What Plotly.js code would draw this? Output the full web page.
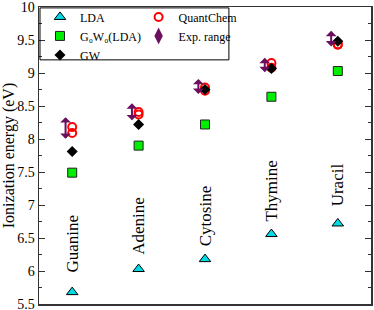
<!DOCTYPE html>
<html>
<head>
<meta charset="utf-8">
<script src="https://cdn.plot.ly/plotly-3.0.1.min.js"></script>
<style>html,body{margin:0;padding:0;background:#fff}#chart{width:374px;height:310px}</style>
</head>
<body>
<div id="chart"></div>
<script>
const categories = ['Guanine', 'Adenine', 'Cytosine', 'Thymine', 'Uracil'];
const lda = [5.68, 6.03, 6.18, 6.56, 6.72];
const g0w0 = [7.49, 7.90, 8.22, 8.64, 9.03];
const gw = [7.81, 8.22, 8.75, 9.07, 9.48];
const quantChemA = [8.09, 8.37, 8.73, 9.08, 9.43];
const quantChemB = [8.18, 8.41, 8.78, 9.15, 9.43];
const expLow = [7.98, 8.26, 8.66, 8.99, 9.38];
const expHigh = [8.33, 8.54, 8.91, 9.23, 9.64];
const labelY = [6.42, 6.68, 6.83, 7.21, 7.31];
const yTickVals = [5.5, 6, 6.5, 7, 7.5, 8, 8.5, 9, 9.5, 10];

const serif = 'Liberation Serif';
const purple = '#6a0f5e';

const traces = [
  {name: 'LDA', x: categories, y: lda, mode: 'markers', type: 'scatter', legend: 'legend',
   marker: {symbol: 'triangle-up', size: 10, color: '#00dce6', line: {color: '#000', width: 1}}},
  {name: 'G₀W₀(LDA)', x: categories, y: g0w0, mode: 'markers', type: 'scatter', legend: 'legend',
   marker: {symbol: 'square', size: 9, color: '#00ee00', line: {color: '#222', width: 1}}},
  {name: 'QuantChem', x: categories.concat(categories), y: quantChemA.concat(quantChemB), mode: 'markers', type: 'scatter', legend: 'legend2',
   marker: {symbol: 'circle-open', size: 8, color: '#ff0000', line: {color: '#ff0000', width: 2}}},
  {name: 'GW', x: categories, y: gw, mode: 'markers', type: 'scatter', legend: 'legend',
   marker: {symbol: 'diamond', size: 8.5, color: '#000'}},
  {name: 'Exp. range', x: [categories[0]], y: [null], mode: 'markers', type: 'scatter', legend: 'legend2',
   marker: {symbol: 'diamond-tall', size: 12, color: purple}}
];

const annotations = [];
categories.forEach((c, i) => {
  annotations.push({
    x: i - 0.1, y: expHigh[i], ax: i - 0.1, ay: expLow[i], xref: 'x', yref: 'y', axref: 'x', ayref: 'y',
    text: '', showarrow: true, arrowside: 'end+start', arrowhead: 1, arrowsize: 0.9, arrowwidth: 2,
    arrowcolor: purple, standoff: 0, startstandoff: 0
  });
  annotations.push({
    x: c, y: labelY[i], xref: 'x', yref: 'y', text: c, showarrow: false, textangle: -90,
    font: {family: serif, size: 17, color: '#000'}
  });
});

const layout = {
  width: 374, height: 310,
  margin: {l: 39, r: 3, t: 6, b: 6},
  font: {family: serif, color: '#000'},
  paper_bgcolor: '#fff', plot_bgcolor: '#fff',
  showlegend: true,
  xaxis: {type: 'category', categoryorder: 'array', categoryarray: categories, range: [-0.5, 4.5],
    showticklabels: false, ticks: '', showgrid: false, zeroline: false,
    showline: true, linecolor: '#333', linewidth: 1.5, mirror: true},
  yaxis: {range: [5.5, 10], tickvals: yTickVals, ticks: 'inside', ticklen: 6, tickcolor: '#333',
    ticklabeloverflow: 'allow',
    minor: {dtick: 0.25, ticks: 'inside', ticklen: 3, tickcolor: '#333', showgrid: false},
    showgrid: false, zeroline: false, showline: true, linecolor: '#333', linewidth: 1.5, mirror: 'ticks',
    tickfont: {family: serif, size: 14, color: '#000'},
    title: {text: 'Ionization energy (eV)', font: {family: serif, size: 16, color: '#000'}, standoff: 5}},
  legend: {x: 0.003, y: 1.012, xanchor: 'left', yanchor: 'top', bgcolor: 'rgba(0,0,0,0)', borderwidth: 0,
    font: {family: serif, size: 12, color: '#000'}, tracegroupgap: 0},
  legend2: {x: 0.3, y: 1.012, xanchor: 'left', yanchor: 'top', bgcolor: 'rgba(0,0,0,0)', borderwidth: 0,
    font: {family: serif, size: 12, color: '#000'}, tracegroupgap: 0},
  shapes: [{type: 'rect', xref: 'paper', yref: 'paper', x0: 0.003, x1: 0.572, y0: 0.822, y1: 0.997,
    line: {color: '#000', width: 1}, fillcolor: 'rgba(0,0,0,0)', layer: 'above'}],
  annotations: annotations
};

Plotly.newPlot('chart', traces, layout, {displayModeBar: false, staticPlot: true});
</script>
</body>
</html>
